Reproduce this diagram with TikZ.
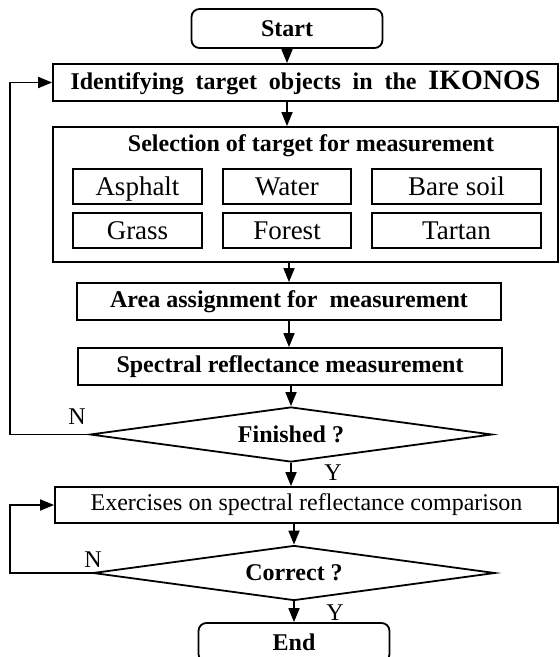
\documentclass[tikz,border=0pt]{standalone}
\usepackage{fontspec}
\setmainfont{Liberation Serif}
\usetikzlibrary{arrows.meta, shapes.geometric}

\begin{document}
\begin{tikzpicture}[
    >={Triangle[length=7pt, width=5.5pt]},
    x=0.5pt, y=-0.5pt,
    line width=0.9pt,
    every node/.style={font=\fontsize{12}{14}\selectfont, inner sep=0pt},
    terminal/.style={draw, rounded corners=4pt, minimum width=95.5pt, minimum height=19.5pt, font=\fontsize{12}{14}\selectfont\bfseries},
    process/.style={draw, minimum height=18.5pt, font=\fontsize{12}{14}\selectfont\bfseries},
    group/.style={draw, minimum width=252.5pt, minimum height=67.5pt},
    item/.style={draw, minimum height=17.5pt, text height=9pt, text depth=0pt, font=\fontsize{13.5}{15}\selectfont}, % target kinds
    decision/.style={draw, diamond, aspect=7, minimum width=201pt, minimum height=27.5pt, font=\fontsize{12}{14}\selectfont\bfseries},
    answer/.style={font=\fontsize{12}{14}\selectfont} % N / Y
]
    \useasboundingbox (0, 0) rectangle (559, 657);

    % FIRST LOOP
    \node (start) at (287, 28.5) [terminal] {Start};
    \node (identify) at (305.5, 82.5) [process, minimum width=252.5pt] {\makebox[235pt][s]{Identifying target objects in the {\fontsize{14}{16}\selectfont IKONOS}}};
    \node (select) at (305.5, 194.5) [group] {};
    \node (select_title) at (311, 146) [font=\fontsize{12}{14}\selectfont\bfseries] {Selection of target for measurement};

    % Targets
    \node (asphalt) at (137.5, 186.5) [item, minimum width=64.5pt] {Asphalt};
    \node (water) at (287, 186.5) [item, minimum width=64pt] {Water};
    \node (bare_soil) at (456.5, 186.5) [item, minimum width=84.5pt] {Bare soil};
    \node (grass) at (137.5, 230.5) [item, minimum width=64.5pt] {Grass};
    \node (forest) at (287, 230.5) [item, minimum width=64pt] {Forest};
    \node (tartan) at (456.5, 230.5) [item, minimum width=84.5pt] {Tartan};

    \node (area) at (289, 301.5) [process, minimum width=212pt] {Area assignment for\ \ measurement};
    \node (spectral) at (290, 366.5) [process, minimum width=212pt] {Spectral reflectance measurement};
    \node (finished) at (291, 434.5) [decision] {Finished ?};

    % SECOND LOOP
    \node (exercises) at (306.5, 505) [draw, minimum width=251.5pt, minimum height=18pt] {Exercises on spectral reflectance comparison};
    \node (correct) at (294, 573) [decision] {Correct ?};
    \node (end) at (294, 642.5) [terminal] {End};

    % Connect the steps
    \draw[->] (start) -- (start |- identify.north);
    \draw[->] (identify.south -| start) -- (start |- select.north);
    \draw[->] (select.south -| area) -- (area);
    \draw[->] (area) -- (area |- spectral.north);
    \draw[->] (spectral.south -| finished) -- (finished);
    \draw[->] (finished.south) -- (finished.south |- exercises.north);
    \draw[->] (exercises.south -| correct) -- (correct);
    \draw[->] (correct.south) -- (end);

    % Loops back
    \draw[->] (finished.west) -- ++(-79, 0) |- (identify.west);
    \draw[->] (correct.west) -- ++(-82, 0) |- (exercises.west);

    % Answers
    \node (finished_no) at (77, 417) [answer] {N};
    \node (finished_yes) at (333, 473) [answer] {Y};
    \node (correct_no) at (93, 560) [answer] {N};
    \node (correct_yes) at (335, 613) [answer] {Y};
\end{tikzpicture}
\end{document}
